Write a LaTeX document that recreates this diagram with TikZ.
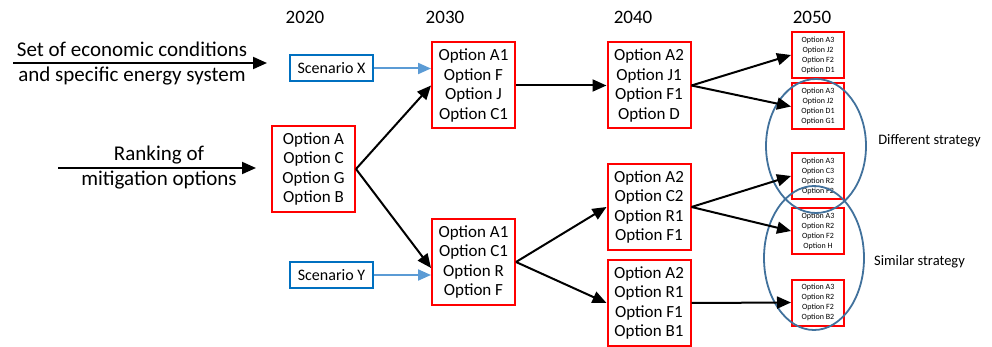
\documentclass[tikz,border=0pt]{standalone}
\usepackage{fontspec}
\setmainfont{Carlito}
\usepackage{xcolor}
\usetikzlibrary{positioning, arrows.meta}
\definecolor{boxred}{HTML}{FF0000}
\definecolor{boxblue}{HTML}{0070C0}
\definecolor{arrblue}{HTML}{5B9BD5}
\definecolor{ovalblue}{HTML}{41719C}

\tikzset{
  optbox/.style={draw=boxred, line width=2pt, align=center, inner sep=0pt,
    minimum width=83pt, minimum height=86pt, font=\fontsize{17}{19.5}\selectfont},
  smallbox/.style={draw=boxred, line width=2pt, align=center, inner sep=0pt,
    minimum width=52pt, minimum height=46pt, font=\fontsize{8}{10}\selectfont},
  scenbox/.style={draw=boxblue, line width=2pt, inner sep=0pt,
    minimum width=83pt, minimum height=26pt, font=\fontsize{16}{18}\selectfont},
  yearlab/.style={font=\fontsize{19}{24}\selectfont},
  sidelab/.style={align=center, inner sep=1pt, font=\fontsize{21}{25}\selectfont},
  stratlab/.style={font=\fontsize{14.5}{16}\selectfont},
  flow/.style={line width=2pt, -{Triangle[length=14pt, width=12pt]}},
  scenflow/.style={draw=arrblue, line width=2pt, -{Triangle[length=13pt, width=11pt]}},
}

\begin{document}
\begin{tikzpicture}[x=1pt, y=-1pt]
  \useasboundingbox (0,0) rectangle (992,347);

  % years
  \node[yearlab] (y20) at (305,17) {2020};
  \node[yearlab] (y30) at (445,17) {2030};
  \node[yearlab] (y40) at (633,17) {2040};
  \node[yearlab] (y50) at (812,17) {2050};

  % inputs on the left
  \node[sidelab] (econ) at (132,64) {Set of economic conditions\\and specific energy system};
  \coordinate (econstart) at (13,63);
  \coordinate (econend) at (267,63);
  \node[sidelab] (rank) at (159,168) {Ranking of\\mitigation options};
  \coordinate (rankstart) at (58,168);
  \coordinate (rankend) at (256,168);

  % scenarios
  \node[scenbox] (scenX) at (331.5,68.5) {Scenario X};
  \node[scenbox] (scenY) at (331.5,275) {Scenario Y};

  % 2020
  \node[optbox] (opt20) at (313.5,169) {Option A\\Option C\\Option G\\Option B};

  % 2030
  \node[optbox] (opt30a) at (473.5,85.5) {Option A1\\Option F\\Option J\\Option C1};
  \node[optbox] (opt30b) at (473.5,262) {Option A1\\Option C1\\Option R\\Option F};

  % 2040
  \node[optbox] (opt40a) at (649,85.5) {Option A2\\Option J1\\Option F1\\Option D};
  \node[optbox] (opt40b) at (649,207) {Option A2\\Option C2\\Option R1\\Option F1};
  \node[optbox] (opt40c) at (649,303) {Option A2\\Option R1\\Option F1\\Option B1};

  % 2050
  \node[smallbox] (opt50a) at (818,55) {Option A3\\Option J2\\Option F2\\Option D1};
  \node[smallbox] (opt50b) at (818,106.5) {Option A3\\Option J2\\Option D1\\Option G1};
  \node[smallbox] (opt50c) at (818,176) {Option A3\\Option C3\\Option R2\\Option F2};
  \node[smallbox] (opt50d) at (818,231) {Option A3\\Option R2\\Option F2\\Option H};
  \node[smallbox] (opt50e) at (818,302.5) {Option A3\\Option R2\\Option F2\\Option B2};

  % strategy groups
  \draw[ovalblue, line width=1.8pt] (816,146) ellipse [x radius=50pt, y radius=67pt];
  \draw[ovalblue, line width=1.8pt] (814,258) ellipse [x radius=50pt, y radius=72pt];
  \node[stratlab] (diff) at (929.5,141) {Different strategy};
  \node[stratlab] (simi) at (919.5,262) {Similar strategy};

  % connectors
  \draw[flow] (econstart) -- (econend);
  \draw[flow] (rankstart) -- (rankend);
  \draw[scenflow] (scenX) -- (opt30a.west |- scenX);
  \draw[scenflow] (scenY) -- (opt30b.west |- scenY);

  \draw[flow] (opt20.east) -- (opt30a.west);
  \draw[flow] (opt20.east) -- (opt30b.188);
  \draw[flow] (opt30a.east) -- (opt40a.west);
  \draw[flow] (opt30b.east) -- (opt40b.west);
  \draw[flow] (opt30b.east) -- (opt40c.west);
  \draw[flow] (opt40a.east) -- (opt50a.west);
  \draw[flow] (opt40a.east) -- (opt50b.west);
  \draw[flow] (opt40b.east) -- (opt50c.west);
  \draw[flow] (opt40b.east) -- (opt50d.west);
  \draw[flow] (opt40c.east) -- (opt50e.west);
\end{tikzpicture}
\end{document}
